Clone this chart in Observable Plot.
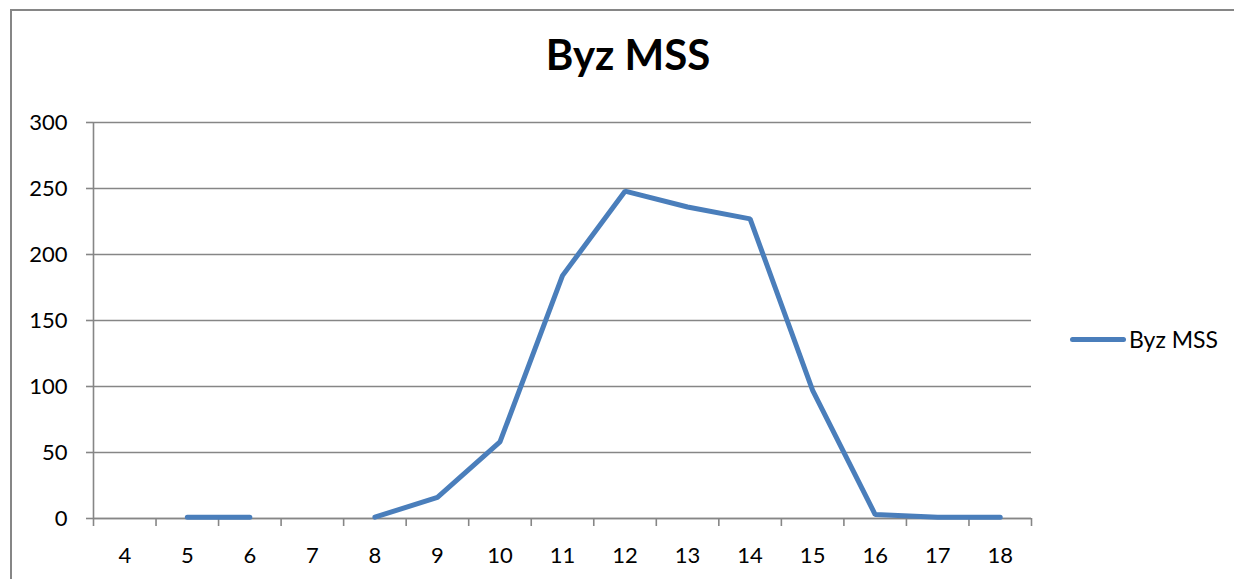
<!DOCTYPE html>
<html>
<head>
<meta charset="utf-8">
<script src="https://cdn.jsdelivr.net/npm/d3@7"></script>
<script src="https://cdn.jsdelivr.net/npm/@observablehq/plot@0.6"></script>
<style>
  html, body { margin: 0; padding: 0; background: #fff; }
  #wrap { position: relative; width: 1234px; height: 579px; overflow: hidden; font-family: Lato, "Open Sans", sans-serif; }
  #frame { position: absolute; left: 10px; top: 9px; width: 1240px; height: 600px; border-left: 2px solid #868686; border-top: 2px solid #868686; box-sizing: border-box; }
  #title { position: absolute; left: 0; width: 1256px; top: 33px; text-align: center; font-size: 42px; font-weight: bold; color: #000; line-height: 1; }
  #legend { position: absolute; left: 1070px; top: 325px; display: flex; align-items: center; font-size: 23px; color: #000; }
  #legend .sw { width: 56px; height: 5px; border-radius: 3px; background: #4a7ebb; margin-right: 3px; }
  #chart { position: absolute; left: 0; top: 0; }
</style>
</head>
<body>
<div id="wrap">
  <div id="frame"></div>
  <div id="chart"></div>
  <div id="title">Byz MSS</div>
  <div id="legend"><div class="sw"></div><span id="legendLabel">Byz MSS</span></div>
</div>
<script>
const seriesName = "Byz MSS";
const categories = [4, 5, 6, 7, 8, 9, 10, 11, 12, 13, 14, 15, 16, 17, 18];
const values = [null, 1, 1, null, 1, 16, 58, 184, 248, 236, 227, 97, 3, 1, 1];
const yTicks = [0, 50, 100, 150, 200, 250, 300];

const data = categories.map((c, i) => ({x: c, y: values[i]}));
const bandEdges = d3.range(categories.length + 1).map(i => categories[0] - 0.5 + i);
const gray = "#868686";
const blue = "#4a7ebb";

const chart = Plot.plot({
  width: 1234,
  height: 579,
  marginLeft: 93,
  marginRight: 203,
  marginTop: 122,
  marginBottom: 61,
  style: {fontFamily: "Lato, 'Open Sans', sans-serif", fontSize: "22px", background: "transparent", color: "#000"},
  x: {type: "linear", domain: [categories[0] - 0.5, categories[categories.length - 1] + 0.5]},
  y: {domain: [0, 300]},
  marks: [
    Plot.gridY(yTicks, {stroke: gray, strokeOpacity: 1, strokeWidth: 1.6}),
    Plot.ruleX([bandEdges[0]], {y1: 0, y2: 300, stroke: gray, strokeWidth: 1.6}),
    Plot.ruleY([0], {stroke: gray, strokeWidth: 1.6}),
    Plot.axisY({ticks: yTicks, tickSize: 7, tickPadding: 19, stroke: gray, strokeWidth: 1.6, fill: "#000", label: null, fontSize: 22}),
    Plot.axisX({ticks: bandEdges, tickSize: 8, tickFormat: () => "", stroke: gray, strokeWidth: 1.6, label: null}),
    Plot.axisX({ticks: categories, tickSize: 0, tickPadding: 29, tickFormat: d => String(d), fill: "#000", label: null, fontSize: 22}),
    Plot.lineY(data, {x: "x", y: "y", stroke: blue, strokeWidth: 5, strokeLinecap: "round", strokeLinejoin: "miter"})
  ]
});
document.getElementById("chart").appendChild(chart);
document.getElementById("title").textContent = seriesName;
document.getElementById("legendLabel").textContent = seriesName;
</script>
</body>
</html>
